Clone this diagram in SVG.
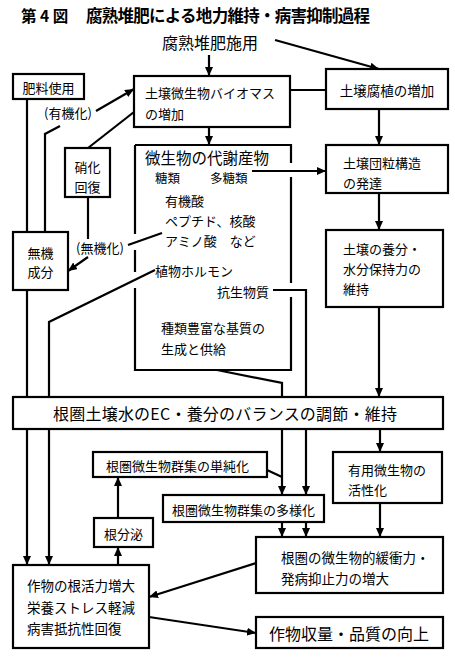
<svg xmlns="http://www.w3.org/2000/svg" width="455" height="660" viewBox="0 0 455 660">
<defs>
<marker id="ah" markerUnits="userSpaceOnUse" markerWidth="9" markerHeight="8" refX="9" refY="4" orient="auto">
<path d="M0,0 L9,4 L0,8 z" fill="#000"/>
</marker>
<style>
.box{fill:#fff;stroke:#000;stroke-width:2.2}
.ln{fill:none;stroke:#000;stroke-width:2.2}
.ar{fill:none;stroke:#000;stroke-width:2.2;marker-end:url(#ah)}
text{font-family:"Noto Sans CJK JP","Noto Sans CJK SC",sans-serif;fill:#000;dominant-baseline:central}
.t12{font-size:12.5px}
.t13{font-size:13px}
.t135{font-size:13.5px}
.t16{font-size:16px}
.c{text-anchor:middle}
</style>
</defs>
<rect width="455" height="660" fill="#fff"/>

<g id="title">
<text x="21" y="15" style="font-size:15.5px;font-weight:bold">第 4 図</text>
<text x="86" y="15" style="font-size:16.5px;font-weight:bold" textLength="284" lengthAdjust="spacing">腐熟堆肥による地力維持・病害抑制過程</text>
</g>

<g id="connectors">
<line class="ar" x1="209" y1="55" x2="209" y2="76"/>
<line class="ar" x1="275" y1="40" x2="379" y2="69"/>
<line class="ln" x1="290" y1="90" x2="326" y2="90"/>
<line class="ar" x1="209" y1="127" x2="209" y2="145"/>
<line class="ar" x1="379" y1="109" x2="379" y2="145"/>
<line class="ln" x1="27" y1="99" x2="27" y2="232"/>
<line class="ln" x1="27" y1="290" x2="27" y2="397"/>
<line class="ar" x1="27" y1="429" x2="27" y2="565"/>
<polyline class="ln" points="45,232 45,134 60,126"/>
<line class="ar" x1="96" y1="111" x2="134" y2="89"/>
<line class="ln" x1="134" y1="112" x2="88" y2="148"/>
<line class="ln" x1="88" y1="197" x2="88" y2="239"/>
<line class="ar" x1="88" y1="257" x2="68" y2="271"/>
<line class="ln" x1="128" y1="245" x2="162" y2="233"/>
<polyline class="ln" points="155,270 49,322 49,397"/>
<line class="ar" x1="49" y1="429" x2="49" y2="565"/>
<line class="ar" x1="252" y1="171" x2="326" y2="171"/>
<polyline class="ln" points="273,290 306,290 306,397"/>
<line class="ar" x1="306" y1="429" x2="306" y2="495"/>
<line class="ar" x1="306" y1="522" x2="306" y2="537"/>
<polyline class="ln" points="217,370 282,383 282,397"/>
<line class="ar" x1="282" y1="429" x2="282" y2="495"/>
<line class="ar" x1="282" y1="522" x2="282" y2="537"/>
<line class="ln" x1="267" y1="470" x2="282" y2="477"/>
<line class="ar" x1="379" y1="193" x2="379" y2="230"/>
<line class="ar" x1="379" y1="307" x2="379" y2="397"/>
<line class="ar" x1="380" y1="429" x2="380" y2="452"/>
<line class="ar" x1="380" y1="503" x2="380" y2="537"/>
<line class="ar" x1="118" y1="565" x2="118" y2="547"/>
<line class="ar" x1="118" y1="518" x2="118" y2="477"/>
<line class="ar" x1="256" y1="563" x2="149" y2="597"/>
<line class="ar" x1="149" y1="617" x2="256" y2="633"/>
<text class="t13 c" x="68" y="112">(有機化)</text>
<text class="t13 c" x="100" y="247">(無機化)</text>
</g>

<g id="n_compost">
<text class="t16" x="162" y="42">腐熟堆肥施用</text>
</g>

<g id="n_fert">
<rect class="box" x="13" y="74" width="71" height="25"/>
<text class="t13 c" x="48.5" y="87">肥料使用</text>
</g>

<g id="n_biomass">
<rect class="box" x="134" y="76" width="156" height="51"/>
<text class="t13" x="145" y="92">土壌微生物バイオマス</text>
<text class="t13" x="145" y="113">の増加</text>
</g>

<g id="n_humus">
<rect class="box" x="326" y="69" width="122" height="40"/>
<text class="t135 c" x="387" y="90">土壌腐植の増加</text>
</g>

<g id="n_nitr">
<rect class="box" x="65" y="148" width="45" height="49"/>
<text class="t13 c" x="87.5" y="166">硝化</text>
<text class="t13 c" x="87.5" y="186">回復</text>
</g>

<g id="n_inorg">
<rect class="box" x="13" y="232" width="55" height="58"/>
<text class="t13 c" x="40.5" y="252">無機</text>
<text class="t13 c" x="40.5" y="271">成分</text>
</g>

<g id="n_metab">
<path class="ln" d="M135,145 H291 V163 M291,177 V283 M291,297 V370 H135 V288 M135,272 V250 M135,234 V145"/>
<text x="145" y="157" style="font-size:15.5px">微生物の代謝産物</text>
<text class="t12" x="155" y="177">糖類</text>
<text class="t12" x="210" y="177">多糖類</text>
<text class="t13" x="165" y="200">有機酸</text>
<text class="t13" x="165" y="220">ペプチド、核酸</text>
<text class="t13" x="165" y="240">アミノ酸　など</text>
<text class="t13" x="155" y="270">植物ホルモン</text>
<text class="t13" x="217" y="291">抗生物質</text>
<text class="t13" x="161" y="327">種類豊富な基質の</text>
<text class="t13" x="161" y="348">生成と供給</text>
</g>

<g id="n_aggr">
<rect class="box" x="326" y="145" width="122" height="48"/>
<text class="t13" x="343" y="162">土壌団粒構造</text>
<text class="t13" x="343" y="182">の発達</text>
</g>

<g id="n_retain">
<rect class="box" x="326" y="230" width="117" height="77"/>
<text class="t13" x="343" y="248">土壌の養分・</text>
<text class="t13" x="343" y="268">水分保持力の</text>
<text class="t13" x="343" y="288">維持</text>
</g>

<g id="n_ec">
<rect class="box" x="13" y="397" width="430" height="32"/>
<text class="t16" x="53" y="413" textLength="344" lengthAdjust="spacing">根圏土壌水のEC・養分のバランスの調節・維持</text>
</g>

<g id="n_simple">
<rect class="box" x="93" y="452" width="174" height="25"/>
<text class="t13" x="106" y="465">根圏微生物群集の単純化</text>
</g>

<g id="n_divers">
<rect class="box" x="163" y="495" width="161" height="27"/>
<text class="t13" x="172" y="509">根圏微生物群集の多様化</text>
</g>

<g id="n_useful">
<rect class="box" x="333" y="452" width="109" height="51"/>
<text class="t13" x="348" y="469">有用微生物の</text>
<text class="t13" x="348" y="489">活性化</text>
</g>

<g id="n_buffer">
<rect class="box" x="256" y="537" width="187" height="56"/>
<text class="t135" x="281" y="557">根圏の微生物的緩衝力・</text>
<text class="t135" x="281" y="578">発病抑止力の増大</text>
</g>

<g id="n_exud">
<rect class="box" x="94" y="518" width="59" height="29"/>
<text class="t13 c" x="123.5" y="533">根分泌</text>
</g>

<g id="n_crop">
<rect class="box" x="13" y="565" width="136" height="83"/>
<text class="t135" x="27" y="585">作物の根活力増大</text>
<text class="t135" x="27" y="607">栄養ストレス軽減</text>
<text class="t135" x="27" y="628">病害抵抗性回復</text>
</g>

<g id="n_yield">
<rect class="box" x="256" y="617" width="187" height="31"/>
<text class="t16 c" x="349" y="633">作物収量・品質の向上</text>
</g>
</svg>
